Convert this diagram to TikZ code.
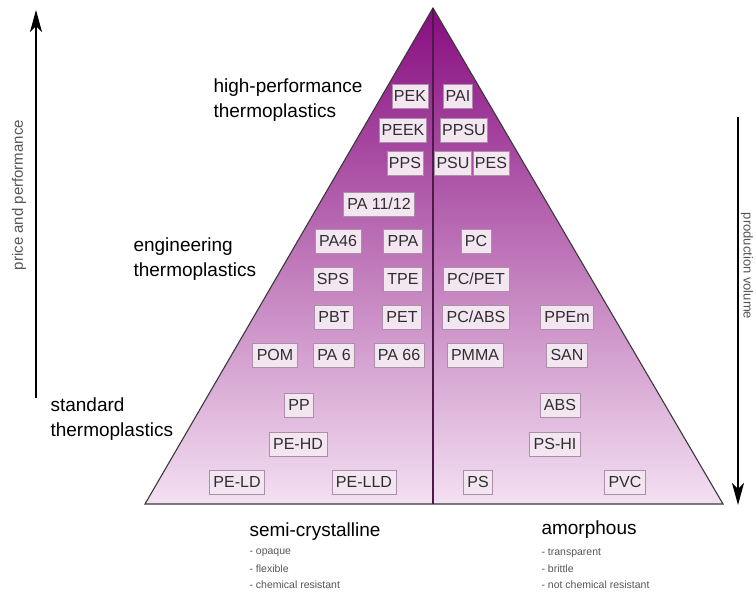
\documentclass[tikz,border=0pt]{standalone}
\usepackage{fontspec}
\setmainfont{Liberation Sans}
\usetikzlibrary{arrows.meta}
\definecolor{topc}{HTML}{880C80}
\definecolor{midc}{HTML}{C24EB8}
\definecolor{botc}{HTML}{F4E0F2}
\definecolor{boxfill}{HTML}{F3E6F1}
\definecolor{boxline}{HTML}{A98FA7}
\definecolor{boxtext}{HTML}{2E2E2E}
\definecolor{edgec}{HTML}{3A3A3A}
\definecolor{divc}{HTML}{4E1A4A}
\definecolor{greytxt}{HTML}{555555}
\begin{document}
\begin{tikzpicture}[x=1pt,y=-1pt,
  mat/.style={draw=boxline, fill=boxfill, line width=0.6pt, text=boxtext,
    font=\fontsize{16}{18}\selectfont, inner xsep=4pt, inner ysep=0pt,
    minimum height=24pt},
  tight/.style={inner xsep=2pt},
  tier/.style={align=left, anchor=west, font=\fontsize{19}{25}\selectfont},
  headtxt/.style={anchor=west, font=\fontsize{19}{22}\selectfont},
  bullet/.style={anchor=west, text=greytxt, font=\fontsize{10.5}{12}\selectfont},
  sidelabel/.style={text=greytxt, font=\fontsize{15}{17}\selectfont},
  bigarrow/.style={line width=1.5pt, -{Stealth[length=22pt,width=12pt,inset=6pt]}}
]
\useasboundingbox (0,0) rectangle (756,594);

% triangle
\coordinate (apex) at (433,8);
\coordinate (bl) at (145,504);
\coordinate (br) at (723,504);
\coordinate (bm) at (433,504);
\shade[top color=topc, middle color=midc, bottom color=botc] (apex) -- (br) -- (bl) -- cycle;
\draw[edgec, line width=1.1pt, line join=miter] (apex) -- (br) -- (bl) -- cycle;
\draw[divc, line width=1.2pt] (apex) -- (bm);

% side arrows
\coordinate (la0) at (36,398);
\coordinate (la1) at (36,10);
\draw[bigarrow] (la0) -- (la1);
\node[sidelabel, rotate=90] (ppl) at (19,195) {price and performance};
\coordinate (ra0) at (738,117);
\coordinate (ra1) at (738,505);
\draw[bigarrow] (ra0) -- (ra1);
\node[sidelabel, rotate=-90, font=\fontsize{13}{15}\selectfont] (pvl) at (747,266) {production volume};

% tier labels
\node[tier] (hp) at (210,100) {high-performance\\thermoplastics};
\node[tier] (eng) at (130,259) {engineering\\thermoplastics};
\node[tier] (std) at (47,419) {standard\\thermoplastics};

% materials: high-performance
\node[mat, tight] (pek) at (410,96) {PEK};
\node[mat, tight] (pai) at (458,96) {PAI};
\node[mat, tight] (peek) at (403,130) {PEEK};
\node[mat, tight] (ppsu) at (464,130) {PPSU};
\node[mat, tight] (pps) at (405,163) {PPS};
\node[mat, tight] (psu) at (453,163) {PSU};
\node[mat, tight] (pes) at (491,163) {PES};

% engineering
\node[mat] (pa1112) at (379,204) {PA 11/12};
\node[mat] (pa46) at (338,241) {PA46};
\node[mat] (ppa) at (403,241) {PPA};
\node[mat] (pc) at (476,241) {PC};
\node[mat] (sps) at (333,279) {SPS};
\node[mat] (tpe) at (403,279) {TPE};
\node[mat] (pcpet) at (476,279) {PC/PET};
\node[mat] (pbt) at (334,317) {PBT};
\node[mat] (pet) at (402,317) {PET};
\node[mat] (pcabs) at (476,317) {PC/ABS};
\node[mat] (ppem) at (567,317) {PPEm};
\node[mat] (pom) at (275,355) {POM};
\node[mat] (pa6) at (334,355) {PA 6};
\node[mat] (pa66) at (399,355) {PA 66};
\node[mat] (pmma) at (475,355) {PMMA};
\node[mat] (san) at (567,355) {SAN};

% standard
\node[mat] (pp) at (299,405) {PP};
\node[mat] (abs) at (560,405) {ABS};
\node[mat] (pehd) at (298,444) {PE-HD};
\node[mat] (pshi) at (555,444) {PS-HI};
\node[mat] (peld) at (237,482) {PE-LD};
\node[mat] (pelld) at (364,482) {PE-LLD};
\node[mat] (ps) at (478,482) {PS};
\node[mat] (pvc) at (625,482) {PVC};

% bottom texts
\node[headtxt] (semi) at (246,532) {semi-crystalline};
\node[bullet] (s1) at (246,553) {- opaque};
\node[bullet] (s2) at (246,569) {- flexible};
\node[bullet] (s3) at (246,585) {- chemical resistant};
\node[headtxt] (amor) at (538,530) {amorphous};
\node[bullet] (a1) at (538,553) {- transparent};
\node[bullet] (a2) at (538,569) {- brittle};
\node[bullet] (a3) at (538,585) {- not chemical resistant};
\end{tikzpicture}
\end{document}
